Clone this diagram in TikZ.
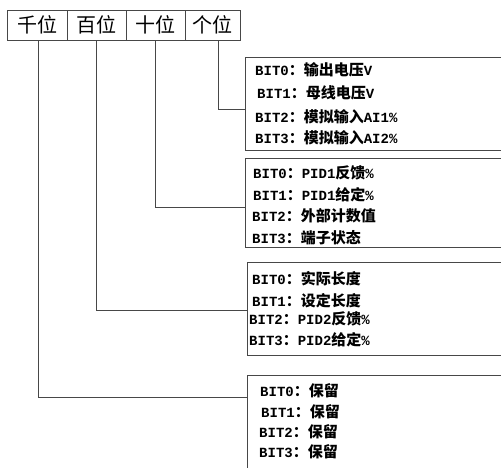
\documentclass[tikz,border=0pt]{standalone}
\usepackage{fontspec}
\setmainfont{Liberation Serif}
\newfontfamily\zhf{Noto Sans CJK SC}
\newfontfamily\laf{Liberation Mono}
\newcommand\zh[1]{{\zhf\bfseries\fontsize{15}{16}\selectfont #1}}
\newcommand\la[1]{{\laf\bfseries\fontsize{14}{16}\selectfont #1}}
\begin{document}
\begin{tikzpicture}[x=1pt,y=-1pt,
  ln/.style={draw=black!72, line width=0.9pt},
  cell/.style={draw=black!72, line width=0.9pt, inner sep=0pt, minimum height=30pt,
    font=\zhf\fontsize{20}{22}\selectfont},
  area/.style={inner sep=0pt, anchor=north west},
  row/.style={anchor=west, inner sep=0pt}]
\useasboundingbox (0,0) rectangle (501,467);
% header
\node[cell, minimum width=60pt] (h1) at (37,25) {千位};
\node[cell, minimum width=59pt] (h2) at (96.5,25) {百位};
\node[cell, minimum width=59pt] (h3) at (155.5,25) {十位};
\node[cell, minimum width=55pt] (h4) at (212.5,25) {个位};
% box areas
\node[area, minimum width=256pt, minimum height=93pt] (b1) at (245,57) {};
\node[area, minimum width=256pt, minimum height=89pt] (b2) at (245,158) {};
\node[area, minimum width=254pt, minimum height=93pt] (b3) at (247,262) {};
\node[area, minimum width=254pt, minimum height=100pt] (b4) at (247,375) {};
\foreach \b in {b1,b2,b3}
  \draw[ln] (\b.north east) -- (\b.north west) -- (\b.south west) -- (\b.south east);
\draw[ln] (b4.north east) -- (b4.north west) -- (b4.south west);
% connector columns and rows
\coordinate (v1) at (38,0);
\coordinate (v2) at (96,0);
\coordinate (v3) at (155,0);
\coordinate (v4) at (218,0);
\coordinate (j1) at (0,109);
\coordinate (j2) at (0,207);
\coordinate (j3) at (0,310);
\coordinate (j4) at (0,397);
\draw[ln] (h4.south -| v4) |- (b1.west |- j1);
\draw[ln] (h3.south -| v3) |- (b2.west |- j2);
\draw[ln] (h2.south -| v2) |- (b3.west |- j3);
\draw[ln] (h1.south -| v1) |- (b4.west |- j4);
% box 1
\node[row] (r10) at (255,70)  {\la{BIT0}\zh{：输出电压}\la{V}};
\node[row] (r11) at (257,93)  {\la{BIT1}\zh{：母线电压}\la{V}};
\node[row] (r12) at (255,117) {\la{BIT2}\zh{：模拟输入}\la{AI1\%}};
\node[row] (r13) at (255,138) {\la{BIT3}\zh{：模拟输入}\la{AI2\%}};
% box 2
\node[row] (r20) at (253,173) {\la{BIT0}\zh{：}\la{PID1}\zh{反馈}\la{\%}};
\node[row] (r21) at (253,195) {\la{BIT1}\zh{：}\la{PID1}\zh{给定}\la{\%}};
\node[row] (r22) at (252,216) {\la{BIT2}\zh{：外部计数值}};
\node[row] (r23) at (252,238) {\la{BIT3}\zh{：端子状态}};
% box 3
\node[row] (r30) at (252,279) {\la{BIT0}\zh{：实际长度}};
\node[row] (r31) at (252,301) {\la{BIT1}\zh{：设定长度}};
\node[row] (r32) at (249,319) {\la{BIT2}\zh{：}\la{PID2}\zh{反馈}\la{\%}};
\node[row] (r33) at (249,340) {\la{BIT3}\zh{：}\la{PID2}\zh{给定}\la{\%}};
% box 4
\node[row] (r40) at (260,391) {\la{BIT0}\zh{：保留}};
\node[row] (r41) at (261,412) {\la{BIT1}\zh{：保留}};
\node[row] (r42) at (259,432) {\la{BIT2}\zh{：保留}};
\node[row] (r43) at (259,452) {\la{BIT3}\zh{：保留}};
\end{tikzpicture}
\end{document}
